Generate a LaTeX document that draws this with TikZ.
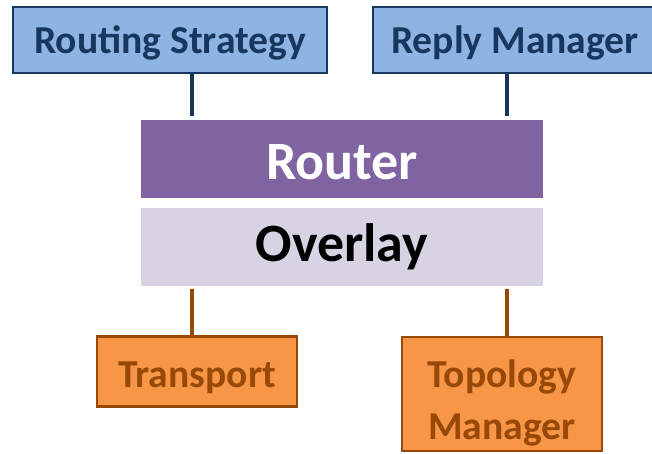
\documentclass[tikz,border=0pt]{standalone}
\usepackage{fontspec}
\setmainfont{Carlito}
\definecolor{bluefill}{HTML}{8EB4E3}
\definecolor{navy}{HTML}{17375E}
\definecolor{orangefill}{HTML}{F79646}
\definecolor{brown}{HTML}{984807}
\definecolor{routerfill}{HTML}{8064A2}
\definecolor{overlayfill}{HTML}{D7D3E3}
\tikzset{
  topbox/.style={draw=navy, fill=bluefill, line width=2.5pt, text=navy,
    font=\fontsize{39.6}{46}\selectfont\bfseries, inner sep=0pt,
    text height=26pt, text depth=0pt},
  botbox/.style={draw=brown, fill=orangefill, line width=2.5pt, text=brown,
    font=\fontsize{39.6}{52}\selectfont\bfseries, inner sep=0pt, align=center},
  layer/.style={draw=none, inner sep=0pt, minimum width=402pt, minimum height=78pt,
    font=\fontsize{54}{60}\selectfont\bfseries, text depth=0pt},
  navylink/.style={draw=navy, line width=4pt},
  brownlink/.style={draw=brown, line width=4pt}
}
\begin{document}
\begin{tikzpicture}[x=1pt, y=-1pt]
  \useasboundingbox (0,0) rectangle (652,453);
  \clip (0,0) rectangle (652,453);

  % upper components
  \node[topbox, minimum width=314pt, minimum height=66pt] (strategy) at (170,40) {Routing Strategy};
  \node[topbox, minimum width=284pt, minimum height=66pt] (reply) at (515,40) {Reply Manager};

  % central layers
  \node[layer, fill=routerfill, text=white, text height=40pt] (router) at (342,159) {Router};
  \node[layer, fill=overlayfill, text=black, text height=30pt] (overlay) at (342,246.5) {Overlay};

  % lower components
  \node[botbox, minimum width=200pt, minimum height=70pt, text height=31pt, text depth=0pt]
    (transport) at (197,371.5) {Transport};
  \node[botbox, minimum width=200pt, minimum height=114pt] (topology) at (502,394) {};
  \node[text=brown, font=\fontsize{39.6}{52}\selectfont\bfseries, align=center, inner sep=0pt]
    (topotext) at ([yshift=-9pt]topology.center) {Topology\\Manager};

  % connectors
  \coordinate (c1) at (192,0);
  \coordinate (c2) at (507,0);
  \draw[navylink] (strategy.south -| c1) -- ([yshift=4pt]router.north -| c1);
  \draw[navylink] (reply.south -| c2) -- ([yshift=4pt]router.north -| c2);
  \draw[brownlink] ([yshift=-3pt]overlay.south -| c1) -- (transport.north -| c1);
  \draw[brownlink] ([yshift=-3pt]overlay.south -| c2) -- (topology.north -| c2);
\end{tikzpicture}
\end{document}
